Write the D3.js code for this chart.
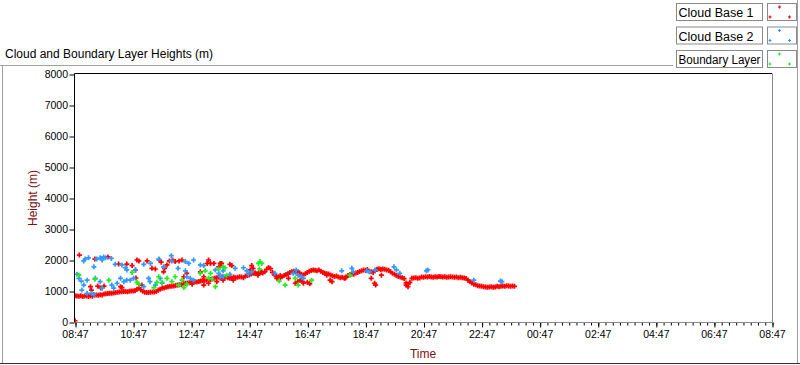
<!DOCTYPE html>
<html><head><meta charset="utf-8">
<script src="https://cdn.jsdelivr.net/npm/d3@7"></script>
<style>
body{margin:0;background:#fff;}
svg{display:block;font-family:"Liberation Sans",Arial,sans-serif;}
</style>
</head><body>
<svg id="c" width="800" height="365"></svg>
<script>
// ---------- data ----------
const chartTitle = "Cloud and Boundary Layer Heights (m)";
const yTitle = "Height (m)";
const xTitle = "Time";
const seriesNames = ["Cloud Base 1", "Cloud Base 2", "Boundary Layer"];
const seriesColors = ["#ff0000", "#3399ff", "#22ee22"];
const yTicks = [0, 1000, 2000, 3000, 4000, 5000, 6000, 7000, 8000];
const startTime = "08:47";      // axis start, axis spans 24 h
const majorStepMin = 120;        // 2 h labelled ticks
const minorStepMin = 15;

// Cloud Base 1 main band, one value every cb1Step minutes from startTime
const cb1Step = 4;
const cb1Main = [
  850,840,830,845,820,835,840,825,850,830,
  860,870,865,880,875,900,910,920,925,930,
  935,950,960,970,975,980,985,975,990,1000,
  1000,1010,1060,1090,1040,990,960,950,955,960,
  965,970,980,1030,1060,1090,1100,1120,1140,1150,
  1150,1160,1180,1190,1200,1210,1230,1250,1260,1270,
  1280,1290,1300,1290,1310,1320,1340,1330,1350,1360,
  1370,1390,1410,1430,1450,1420,1460,1440,1450,1430,
  1440,1420,1450,1430,1440,1460,1450,1430,1480,1500,
  1520,1550,1570,1580,1560,1590,1600,1580,1620,1700,
  1760,1720,1600,1520,1480,1450,1430,1460,1500,1530,
  1560,1600,1620,1640,1610,1630,1580,1540,1520,1560,
  1600,1640,1660,1680,1670,1650,1680,1640,1600,1570,
  1560,1550,1520,1490,1470,1480,1450,1430,1440,1420,
  1450,1500,1530,1550,1540,1580,1600,1630,1650,1680,
  1670,1690,1640,1620,1600,1650,1700,1720,1690,1710,
  1700,1680,1670,1620,1570,1540,1500,1470,1450,1430,
  1400,1260,1220,1280,1410,1420,1430,1410,1420,1450,
  1440,1460,1450,1470,1450,1440,1460,1450,1470,1460,
  1450,1460,1440,1450,1460,1450,1440,1450,1430,1440,
  1430,1420,1400,1350,1300,1260,1220,1200,1170,1160,
  1150,1140,1130,1120,1130,1140,1120,1130,1150,1140,
  1150,1160,1150,1170,1160,1150,1160,1150
];
// Cloud Base 1 scattered points: [minutes after start, height m]
const cb1Extra = [
  [0,40],[9,2160],[41,2030],[68,2100],[32,1140],[34,1030],[47,1160],[53,1100],[60,1160],
  [94,1140],[97,1110],[90,1870],[107,1870],[118,1820],[125,1680],[126,1420],[128,2000],
  [132,1970],[149,1970],[138,1190],[159,1730],[166,1710],[174,2000],[178,1930],[183,1620],
  [185,1730],[190,1840],[195,1970],[202,2000],[207,1950],[215,1970],[221,2000],[225,1460],
  [231,1570],[242,1220],[259,1620],[266,1460],[273,1890],[276,2000],[280,1890],[287,1890],
  [297,1780],[300,1890],[266,1190],[276,1250],[293,1300],[297,1460],[303,1890],[320,1860],
  [324,1820],[306,1350],[320,1410],[327,1350],[365,1820],[368,1730],[362,1680],[372,1570],
  [378,1510],[386,1620],[417,1410],[424,1500],[441,1410],[465,1350],[470,1300],[472,1250],
  [455,1250],[460,1300],[480,1280],[485,1230],[520,1510],[527,1350],[531,1300],[558,1410],
  [612,1410],[619,1250],[621,1190],[633,1510],[684,1190],[688,1140]
];
// Cloud Base 2: [minutes after start, height m]
const cb2Points = [
  [4,1540],[8,1410],[18,1970],[21,2030],[28,2070],[13,1320],[18,1190],[14,1030],[25,925],
  [25,1350],[39,1780],[45,2030],[52,2070],[56,2000],[59,2100],[63,2070],[75,2050],[42,1410],
  [52,1300],[56,1090],[34,925],[39,890],[83,1860],[97,1840],[104,1750],[107,1680],[125,1680],
  [76,1190],[80,1090],[87,1250],[94,1410],[101,1300],[107,1350],[114,1350],[121,1410],
  [142,1860],[156,1890],[173,2030],[183,1780],[152,1410],[155,1300],[142,1140],[199,2140],
  [200,1970],[213,1730],[228,1950],[235,1890],[245,2000],[228,1650],[231,1460],[238,1410],
  [245,1350],[259,1840],[266,1820],[290,1680],[297,1570],[300,1460],[176,1410],[180,1250],
  [166,1190],[306,1650],[306,1460],[320,1540],[331,1730],[348,1750],[355,1650],[358,1540],
  [365,1620],[413,1570],[451,1570],[457,1680],[461,1510],[468,1460],[472,1410],[551,1650],
  [572,1730],[575,1620],[603,1650],[609,1620],[620,1680],[659,1780],[664,1680],[671,1570],
  [726,1650],[729,1680],[824,1350],[879,1320],[882,1300]
];
// Boundary Layer: [minutes after start, height m]
const blPoints = [
  [8,1510],[41,1380],[70,1350],[118,1600],[128,1280],[132,1220],[163,1110],[173,1460],
  [180,1280],[169,1280],[190,1410],[200,1300],[207,1460],[214,1190],[221,1350],[225,1110],
  [231,1220],[269,1650],[280,1570],[276,1410],[283,1390],[290,1140],[297,1710],[259,1570],
  [306,1780],[310,1750],[313,1510],[379,1890],[382,1950],[386,1890],[381,1710],[455,1410],
  [461,1190],[489,1350],[434,1190],[422,1320],[568,1510]
];

// ---------- chart ----------
const svg = d3.select("#c");
const plot = {left: 75, right: 772, top: 74, bottom: 322};

const t0 = d3.timeParse("%Y-%m-%d %H:%M")("2020-01-01 " + startTime);
const t1 = d3.timeHour.offset(t0, 24);
const minToDate = m => d3.timeMinute.offset(t0, m);

const x = d3.scaleTime().domain([t0, t1]).range([plot.left, plot.right]);
const y = d3.scaleLinear().domain([0, 8000]).range([plot.bottom, plot.top]);

// outer frame
const frame = svg.append("g");
frame.append("line").attr("x1",0).attr("x2",673).attr("y1",65.5).attr("y2",65.5).attr("stroke","#a0a0a0");
frame.append("line").attr("x1",2.5).attr("x2",2.5).attr("y1",65).attr("y2",363).attr("stroke","#a0a0a0");
frame.append("line").attr("x1",0).attr("x2",800).attr("y1",363.5).attr("y2",363.5).attr("stroke","#303030");
frame.append("line").attr("x1",797.5).attr("x2",797.5).attr("y1",0).attr("y2",363).attr("stroke","#a0a0a0");

// title
svg.append("text").attr("x",5).attr("y",58).attr("font-size",12).attr("fill","#000").text(chartTitle);

// plot background
svg.append("rect").attr("x",plot.left).attr("y",plot.top)
  .attr("width",plot.right-plot.left).attr("height",plot.bottom-plot.top).attr("fill","#fff");

// x axis
const majorTicks = d3.range(0, 24*60+1, majorStepMin).map(minToDate);
const minorTicks = d3.range(0, 24*60+1, minorStepMin).map(minToDate);
const xMinor = svg.append("g").attr("transform",`translate(0,${plot.bottom})`)
  .call(d3.axisBottom(x).tickValues(minorTicks).tickSize(3).tickFormat(""));
xMinor.select(".domain").remove();
xMinor.selectAll("line").attr("stroke","#000").attr("transform","translate(0.5,0.5)");
const xAxis = svg.append("g").attr("transform",`translate(0,${plot.bottom})`)
  .call(d3.axisBottom(x).tickValues(majorTicks).tickSize(5).tickPadding(4).tickFormat(d3.timeFormat("%H:%M")));
xAxis.select(".domain").remove();
xAxis.selectAll("line").attr("stroke","#000").attr("transform","translate(0.5,0.5)");
xAxis.selectAll("text").attr("font-size",10.5).attr("font-family","Liberation Sans, Arial, sans-serif").attr("fill","#000");

// y axis
const yAxis = svg.append("g").attr("transform",`translate(${plot.left},0)`)
  .call(d3.axisLeft(y).tickValues(yTicks).tickSize(5).tickPadding(2).tickFormat(d3.format("d")));
yAxis.select(".domain").remove();
yAxis.selectAll("line").attr("stroke","#000").attr("transform","translate(-0.5,0.5)");
yAxis.selectAll("text").attr("font-size",10.5).attr("font-family","Liberation Sans, Arial, sans-serif").attr("fill","#000");

// plot border (sunken look)
svg.append("line").attr("x1",plot.left-0.5).attr("x2",plot.right).attr("y1",plot.top-0.5).attr("y2",plot.top-0.5).attr("stroke","#000");
svg.append("line").attr("x1",plot.left-0.5).attr("x2",plot.left-0.5).attr("y1",plot.top-0.5).attr("y2",plot.bottom+0.5).attr("stroke","#000");
svg.append("line").attr("x1",plot.left).attr("x2",plot.right+0.5).attr("y1",plot.bottom+0.5).attr("y2",plot.bottom+0.5).attr("stroke","#8a8a8a");
svg.append("line").attr("x1",plot.right+0.5).attr("x2",plot.right+0.5).attr("y1",plot.top-0.5).attr("y2",plot.bottom+0.5).attr("stroke","#8a8a8a");

// axis titles
svg.append("text").attr("x",423).attr("y",358).attr("text-anchor","middle")
  .attr("font-size",12).attr("fill","#7a1010").text(xTitle);
svg.append("text").attr("transform","translate(37,198) rotate(-90)").attr("text-anchor","middle")
  .attr("font-size",12).attr("fill","#7a1010").text(yTitle);

// data
svg.append("clipPath").attr("id","pc").append("rect")
  .attr("x",plot.left).attr("y",plot.top).attr("width",plot.right-plot.left).attr("height",plot.bottom-plot.top+3);
const cross = "M-2.5,0H2.5M0,-2.5V2.5";
const cb1 = cb1Main.map((h,i) => [i*cb1Step, h]).concat(cb1Extra);
const allSeries = [cb1, cb2Points, blPoints];
const dataG = svg.append("g").attr("clip-path","url(#pc)");
allSeries.forEach((pts, si) => {
  dataG.append("g").selectAll("path").data(pts).join("path")
    .attr("d", cross)
    .attr("transform", d => `translate(${x(minToDate(d[0]))},${y(d[1])})`)
    .attr("stroke", seriesColors[si]).attr("stroke-width",1.7).attr("fill","none");
});

// legend
const legRows = [3, 26.5, 50];
const leg = svg.append("g");
seriesNames.forEach((name, i) => {
  const ry = legRows[i];
  leg.append("rect").attr("x",676.5).attr("y",ry+0.5).attr("width",86).attr("height",17)
    .attr("fill","#fff").attr("stroke","#8a8a8a");
  const t = leg.append("text").attr("x",678.5).attr("y",ry+14).attr("font-size",12.5).attr("fill","#000").text(name);
  const w = t.node().getComputedTextLength();
  if (w > 82) t.attr("textLength", 82).attr("lengthAdjust", "spacingAndGlyphs");
  leg.append("rect").attr("x",767.5).attr("y",ry+0.5).attr("width",29).attr("height",17)
    .attr("fill","#fff").attr("stroke","#8a8a8a");
  [[12,4],[2.5,14],[22,14]].forEach(p => {
    leg.append("path").attr("d","M-1.5,0H1.5M0,-1.5V1.5")
      .attr("transform",`translate(${767.5+p[0]},${ry+p[1]})`)
      .attr("stroke",seriesColors[i]).attr("stroke-width",1.2).attr("fill","none");
  });
});
</script>
</body></html>
